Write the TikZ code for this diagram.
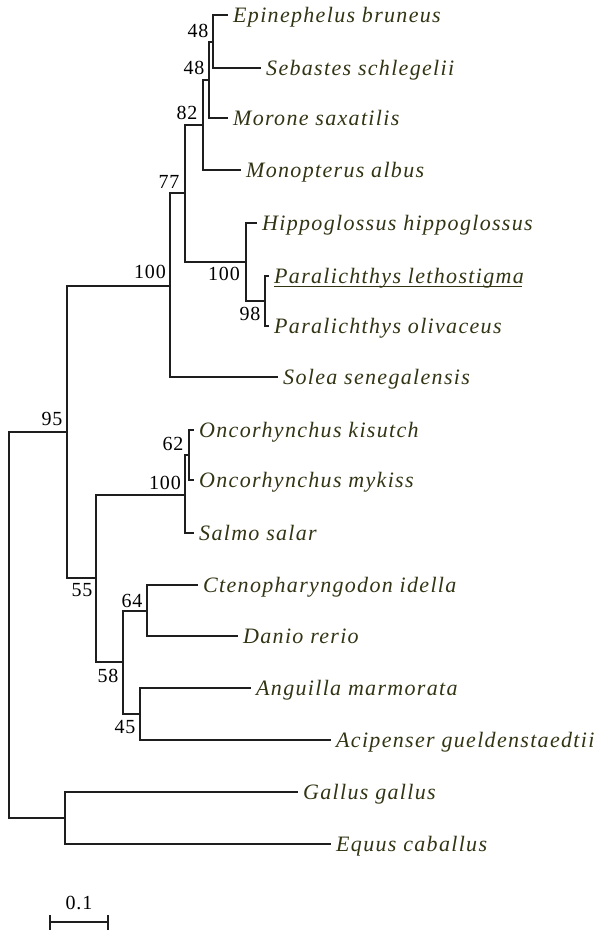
\documentclass[tikz,border=0pt]{standalone}
\usepackage{fontspec}
\setmainfont{Liberation Serif}
\newfontfamily\taxfont[LetterSpace=6]{Liberation Serif}
\newfontfamily\numfont[LetterSpace=4]{Liberation Serif}
\usetikzlibrary{calc}
\definecolor{taxcol}{RGB}{50,52,20}
\definecolor{brcol}{RGB}{30,30,30}
\tikzset{
  branch/.style={draw=brcol, line width=1.5pt, line cap=rect},
  taxon/.style={anchor=west, inner xsep=6pt, inner ysep=0pt,
    text height=15pt, text depth=0pt, text=taxcol,
    font=\taxfont\itshape\fontsize{22}{22}\selectfont},
  boot/.style={inner sep=0pt, text=black, font=\numfont\fontsize{20}{20}\selectfont},
}
\begin{document}
\begin{tikzpicture}[x=1pt, y=-1pt]
\useasboundingbox (0,0) rectangle (598,933);

% ---- taxa (west anchor sits at the tip of each terminal branch)
\node[taxon] (epi) at (227,15)  {Epinephelus bruneus};
\node[taxon] (seb) at (260,68)  {Sebastes schlegelii};
\node[taxon] (mor) at (227,118) {Morone saxatilis};
\node[taxon] (mon) at (240,170) {Monopterus albus};
\node[taxon] (hip) at (256,223) {Hippoglossus hippoglossus};
\node[taxon] (ple) at (268,276) {Paralichthys lethostigma};
\node[taxon] (pol) at (268,326) {Paralichthys olivaceus};
\node[taxon] (sol) at (277,377) {Solea senegalensis};
\node[taxon] (oki) at (193,430) {Oncorhynchus kisutch};
\node[taxon] (omy) at (193,480) {Oncorhynchus mykiss};
\node[taxon] (sal) at (193,533) {Salmo salar};
\node[taxon] (cte) at (197,585) {Ctenopharyngodon idella};
\node[taxon] (dan) at (237,636) {Danio rerio};
\node[taxon] (ang) at (250,688) {Anguilla marmorata};
\node[taxon] (aci) at (330,740) {Acipenser gueldenstaedtii};
\node[taxon] (gal) at (297,792) {Gallus gallus};
\node[taxon] (equ) at (330,844) {Equus caballus};

% underline of the studied species
\draw[taxcol, line width=0.8pt]
  ([xshift=6pt,yshift=-3pt]ple.base west) -- ([xshift=-8pt,yshift=-3pt]ple.base east);

% ---- internal nodes
\coordinate (nA)  at (213,42);
\coordinate (nB)  at (209,80);
\coordinate (nC)  at (203,125);
\coordinate (nP)  at (265,301);
\coordinate (nH)  at (246,262);
\coordinate (nD)  at (185,193);
\coordinate (nE)  at (170,286);
\coordinate (nOK) at (189,455);
\coordinate (nS)  at (185,495);
\coordinate (nCD) at (147,611);
\coordinate (nAA) at (140,714);
\coordinate (nG)  at (123,662);
\coordinate (nI)  at (96,578);
\coordinate (nF)  at (67,432);
\coordinate (nGE) at (65,818);
\coordinate (root) at (9,625);

% ---- branches
\path[branch] (epi.west) -| (nA) |- (seb.west);
\path[branch] (nA) -| (nB) |- (mor.west);
\path[branch] (nB) -| (nC) |- (mon.west);
\path[branch] (ple.west) -| (nP) |- (pol.west);
\path[branch] (hip.west) -| (nH) |- (nP);
\path[branch] (nC) -| (nD) |- (nH);
\path[branch] (nD) -| (nE) |- (sol.west);
\path[branch] (oki.west) -| (nOK) |- (omy.west);
\path[branch] (nOK) -| (nS) |- (sal.west);
\path[branch] (cte.west) -| (nCD) |- (dan.west);
\path[branch] (ang.west) -| (nAA) |- (aci.west);
\path[branch] (nCD) -| (nG) |- (nAA);
\path[branch] (nS) -| (nI) |- (nG);
\path[branch] (nE) -| (nF) |- (nI);
\path[branch] (gal.west) -| (nGE) |- (equ.west);
\path[branch] (nF) -| (root) |- (nGE);

% ---- bootstrap values
\node[boot] (bA)  at (198,31)  {48};
\node[boot] (bB)  at (194,68)  {48};
\node[boot] (bC)  at (187,113) {82};
\node[boot] (bD)  at (169,182) {77};
\node[boot] (bH)  at (224,274) {100};
\node[boot] (bP)  at (250,314) {98};
\node[boot] (bE)  at (150,272) {100};
\node[boot] (bF)  at (52,419)  {95};
\node[boot] (bOK) at (173,444) {62};
\node[boot] (bS)  at (165,483) {100};
\node[boot] (bI)  at (82,590)  {55};
\node[boot] (bCD) at (132,601) {64};
\node[boot] (bG)  at (108,676) {58};
\node[boot] (bAA) at (125,727) {45};

% ---- scale bar
\coordinate (sbL) at (50,922);
\coordinate (sbR) at (108,922);
\path[branch, line cap=butt] (sbL) -- (sbR);
\path[branch, line cap=butt] ([yshift=-7.5pt]sbL) -- ([yshift=7.5pt]sbL);
\path[branch, line cap=butt] ([yshift=-7.5pt]sbR) -- ([yshift=7.5pt]sbR);
\node[boot] (sbT) at (79,903) {0.1};
\end{tikzpicture}
\end{document}
